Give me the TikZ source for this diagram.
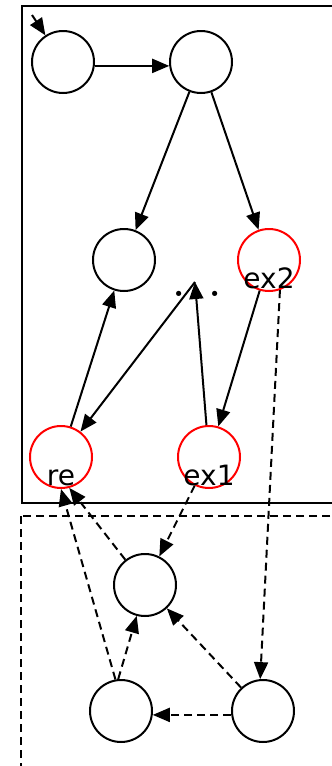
\documentclass[tikz,border=0pt]{standalone}
\usepackage{fontspec}
\setmainfont{DejaVu Sans}
\newfontfamily\dotsfont{Latin Modern Roman}
\usetikzlibrary{arrows.meta,calc}

\begin{document}
\begin{tikzpicture}[x=1pt, y=-1pt, line width=2pt,
    state/.style={circle, draw=black, minimum size=62pt, inner sep=0pt},
    redstate/.style={state, draw=red},
    lbl/.style={anchor=base, inner sep=0pt, font=\fontsize{28}{28}\selectfont},
    edge/.style={-{Triangle[length=17pt,width=14pt]}},
    dashedge/.style={edge, dash pattern=on 8pt off 5pt}]

    \useasboundingbox (0,0) rectangle (332,766);
    \clip (0,0) rectangle (332,766);

    % 1. Frames of the two parts
    \draw (22,6) rectangle (350,503);
    \draw[dash pattern=on 8pt off 5pt] (21,516) rectangle (350,790);

    % 2. States of the upper part
    \node[state] (q0) at (63,62) {};
    \node[state] (q1) at (201,62) {};
    \node[state] (q2) at (124,260) {};
    \node[redstate] (ex2) at (269,260) {};
    \node[redstate] (re) at (61,457) {};
    \node[redstate] (ex1) at (209,457) {};
    \node[anchor=base, inner sep=0pt, font=\dotsfont\bfseries\fontsize{36}{36}\selectfont] (dots) at (197,296) {.\hspace{6.5pt}.\hspace{6.5pt}.};
    \coordinate (init) at (32,15);
    \coordinate (top) at (195,282);

    % States of the lower part
    \node[state] (p0) at (145,585) {};
    \node[state] (p1) at (121,711) {};
    \node[state] (p2) at (263,711) {};

    % 3. Labels sit low inside the red states
    \node[lbl] (lre) at ($(re)+(0,28)$) {re};
    \node[lbl] (lex1) at ($(ex1)+(0,28)$) {ex1};
    \node[lbl] (lex2) at ($(ex2)+(0,28)$) {ex2};

    % 4. Solid transitions
    \draw[edge] (init) -- (q0);
    \draw[edge] (q0.-7) -- (q1.187);
    \draw[edge] (q1) -- (q2);
    \draw[edge] (q1) -- (ex2);
    \draw[edge] (re) -- (q2);
    \draw[edge] (ex1) -- (top);
    \draw[edge] (top) -- (re);
    \draw[edge] (ex2) -- (ex1);

    % 5. Dashed transitions
    \draw[dashedge] (ex2.-70) -- (p2.95);
    \draw[dashedge] (ex1) -- (p0);
    \draw[dashedge] (p0) -- (re.-75);
    \draw[dashedge] (p1.100) -- (re.-90);
    \draw[dashedge] (p1.95) -- (p0.-105);
    \draw[dashedge] (p2) -- (p0);
    \draw[dashedge] (p2.187) -- (p1.-7);

\end{tikzpicture}
\end{document}
